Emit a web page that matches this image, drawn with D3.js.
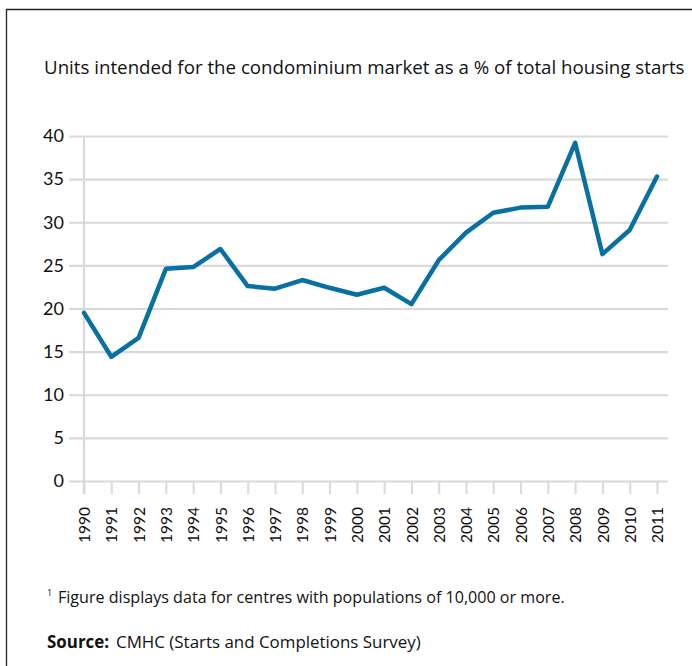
<!DOCTYPE html>
<html>
<head>
<meta charset="utf-8">
<script src="https://cdn.jsdelivr.net/npm/d3@7"></script>
<style>
  html, body { margin: 0; padding: 0; background: #fff; }
  svg { display: block; font-family: "Open Sans", Lato, sans-serif; }
</style>
</head>
<body>
<svg id="chart" width="692" height="666"></svg>
<script>
// Condominium units as a share of total housing starts, 1990–2011
const years = ["1990","1991","1992","1993","1994","1995","1996","1997","1998","1999","2000",
               "2001","2002","2003","2004","2005","2006","2007","2008","2009","2010","2011"];
const condoShare = [19.5, 14.4, 16.6, 24.6, 24.8, 26.9, 22.6, 22.3, 23.3, 22.4, 21.6,
                    22.4, 20.5, 25.6, 28.8, 31.1, 31.7, 31.8, 39.2, 26.3, 29.1, 35.3];
const yTicks = [0, 5, 10, 15, 20, 25, 30, 35, 40];

const svg = d3.select("#chart");
const W = 692, H = 666;

// shrink or grow a text node's font so it spans the given width
function fitWidth(sel, width) {
  const node = sel.node();
  const fs = parseFloat(sel.attr("font-size"));
  const w = node.getComputedTextLength();
  sel.attr("font-size", (fs * width / w).toFixed(2));
}

// outer frame: left and top rules only
svg.append("line").attr("x1", 6.5).attr("x2", 6.5).attr("y1", 9).attr("y2", H)
  .attr("stroke", "#222").attr("stroke-width", 1.3);
svg.append("line").attr("x1", 6).attr("x2", W).attr("y1", 9.5).attr("y2", 9.5)
  .attr("stroke", "#222").attr("stroke-width", 1.3);

const title = svg.append("text").attr("x", 44).attr("y", 74)
  .attr("font-size", 16).attr("fill", "#111")
  .text("Units intended for the condominium market as a % of total housing starts");
fitWidth(title, 641);

const x = d3.scalePoint().domain(years).range([84, 657]);
const y = d3.scaleLinear().domain([0, 40]).range([481, 136]);

const grid = "#d9d9d9";

// horizontal gridlines extending left as ticks
const yAxis = d3.axisLeft(y).tickValues(yTicks).tickSize(-(668 - 84)).tickPadding(20).tickFormat(d3.format("d"));
const gy = svg.append("g").attr("transform", "translate(84,0)").call(yAxis);
gy.select(".domain").remove();
gy.selectAll(".tick line").attr("x1", -15).attr("stroke", grid).attr("stroke-width", 2.2);
gy.selectAll(".tick text").attr("x", -20).attr("font-size", 18).attr("fill", "#111")
  .attr("font-family", "Lato, sans-serif");

// vertical axis rule
svg.append("line").attr("x1", 84).attr("x2", 84).attr("y1", 136).attr("y2", 494)
  .attr("stroke", grid).attr("stroke-width", 2.2);

// year ticks and rotated labels
const xAxis = d3.axisBottom(x).tickSize(13).tickPadding(6);
const gx = svg.append("g").attr("transform", "translate(0,481)").call(xAxis);
gx.select(".domain").remove();
gx.selectAll(".tick line").attr("stroke", grid).attr("stroke-width", 2);
gx.selectAll(".tick text")
  .attr("font-size", 15.5).attr("fill", "#111").attr("font-family", "Lato, sans-serif")
  .attr("transform", "rotate(-90)")
  .attr("x", -26).attr("y", 0).attr("dy", "0.36em")
  .attr("text-anchor", "end");

const line = d3.line().x((d, i) => x(years[i])).y(d => y(d));
svg.append("path").datum(condoShare)
  .attr("d", line).attr("fill", "none")
  .attr("stroke", "#0870a2").attr("stroke-width", 4.5)
  .attr("stroke-linejoin", "round").attr("stroke-linecap", "round");

// notes
svg.append("text").attr("x", 47).attr("y", 596).attr("font-size", 9).attr("fill", "#111").text("1");
const note = svg.append("text").attr("x", 58).attr("y", 603).attr("font-size", 14).attr("fill", "#111")
  .text("Figure displays data for centres with populations of 10,000 or more.");
fitWidth(note, 507);

const src = svg.append("text").attr("x", 47).attr("y", 648).attr("font-size", 14).attr("fill", "#111");
src.append("tspan").attr("font-weight", "bold").text("Source:");
src.append("tspan").attr("x", 116).text("CMHC (Starts and Completions Survey)");
const cm = src.select("tspan:nth-child(2)");
// scale the plain part so it ends where the line should end
const fsSrc = 14 * (421 - 116) / cm.node().getComputedTextLength();
src.attr("font-size", fsSrc.toFixed(2));
</script>
</body>
</html>
